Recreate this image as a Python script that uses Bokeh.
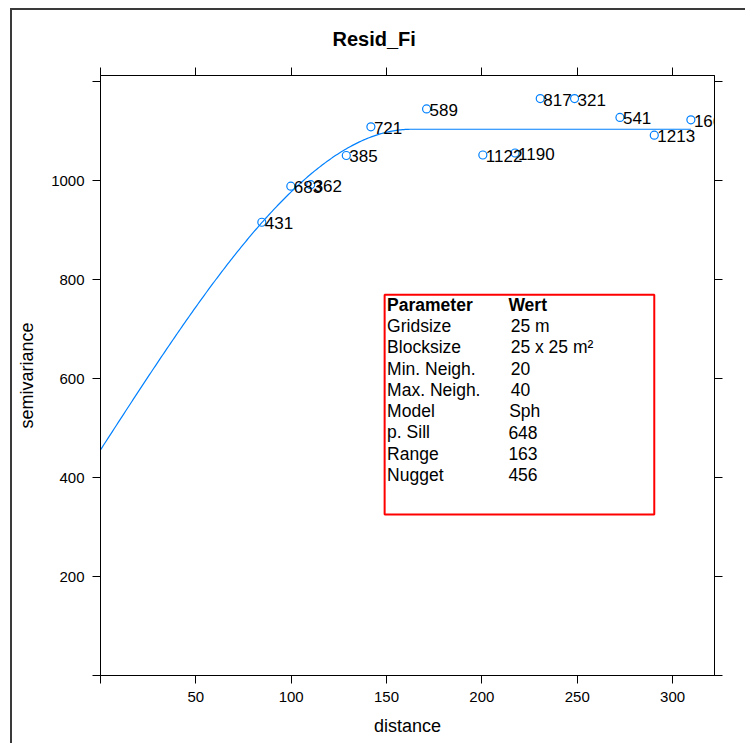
from bokeh.plotting import figure
from bokeh.models import (ColumnDataSource, FixedTicker, LinearAxis, BoxAnnotation, Title)
from bokeh.core.properties import value
from bokeh.embed import file_html
from bokeh.resources import INLINE

# ---- data ----
dist = [84.6, 99.8, 110.2, 128.9, 141.8, 171.0, 200.5, 217.4, 230.6, 248.6, 272.4, 290.4, 309.6]
gamma = [916, 989, 992, 1051, 1109, 1145, 1052, 1056, 1166, 1166, 1128, 1092, 1123]
npairs = ["431", "683", "362", "385", "721", "589", "1122", "1190", "817", "321", "541", "1213", "166"]

# fitted spherical model parameters (from the table)
nugget = 456
psill = 648
vrange = 163

x_ticks = [0, 50, 100, 150, 200, 250, 300]
y_ticks = [0, 200, 400, 600, 800, 1000, 1200]

param_names = ["Parameter", "Gridsize", "Blocksize", "Min. Neigh.", "Max. Neigh.",
               "Model", "p. Sill", "Range", "Nugget"]
param_values = ["Wert", "25 m", "25 x 25 m²", "20", "40", "Sph", "648", "163", "456"]

FONT = "Liberation Sans"
BLUE = "#0080ff"

xmax = 1.04 * max(dist)
ymax = 1.04 * max(gamma)

p = figure(width=745, height=743, output_backend="svg", toolbar_location=None,
           x_range=(0, xmax), y_range=(0, ymax),
           x_axis_location=None, y_axis_location=None)
p.min_border_left = 100
p.min_border_right = 31
p.min_border_top = 75
p.min_border_bottom = 68
p.grid.visible = False
p.outline_line_color = "black"
p.outline_line_width = 1
p.background_fill_color = "white"
p.border_fill_color = None
p.styles = {"box-shadow": "inset 10px 8px 0 0 white, inset 12px 10px 0 0 #3a3a3a"}

p.title = Title(text="Resid_Fi", align="left", vertical_align="top", text_font=FONT,
                text_font_size="20px", text_font_style="bold", text_color="black",
                text_line_height=0.6, offset=232, standoff=32)


def make_axis(loc, show_labels, ticks, overrides, label=None):
    ax = LinearAxis(ticker=FixedTicker(ticks=ticks))
    ax.axis_line_color = "black"
    ax.major_tick_line_color = "black"
    ax.major_tick_in = 0
    ax.major_tick_out = 8
    ax.minor_tick_line_color = None
    ax.major_label_text_font = FONT
    ax.major_label_text_font_size = "15px"
    ax.major_label_text_color = "black"
    ax.major_label_standoff = 8
    if show_labels:
        ax.major_label_overrides = overrides
    else:
        ax.major_label_text_color = None
        ax.major_label_text_font_size = "1px"
        ax.major_label_standoff = 0
    if label:
        ax.axis_label = label
        ax.axis_label_text_font = FONT
        ax.axis_label_text_font_size = "18px"
        ax.axis_label_text_font_style = "normal"
        ax.axis_label_text_color = "black"
        ax.axis_label_standoff = 11
    p.add_layout(ax, loc)
    return ax


make_axis("below", True, x_ticks, {0: ""}, "distance")
make_axis("above", False, x_ticks, {})
make_axis("left", True, y_ticks, {0: "", 1200: ""}, "semivariance")
make_axis("right", False, y_ticks, {})

# model line (spherical model with the parameters shown in the table)
n = 400
hx = [max(dist) * i / (n - 1) for i in range(n)]
hy = []
for h in hx:
    if h < vrange:
        r = h / vrange
        hy.append(nugget + psill * (1.5 * r - 0.5 * r ** 3))
    else:
        hy.append(nugget + psill)
p.line(hx, hy, line_color=BLUE, line_width=1.2)

src = ColumnDataSource(dict(x=dist, y=gamma, lab=npairs))
p.scatter("x", "y", source=src, marker="circle", size=8, fill_color=None,
          line_color=BLUE, line_width=1.2)
p.text("x", "y", text="lab", source=src, text_font=value(FONT), text_font_size="17px",
       text_color="black", text_align="left", text_baseline="middle", x_offset=3, y_offset=1)

# parameter table
box = BoxAnnotation(left=149.0, right=290.4, bottom=325.4, top=769.4,
                    fill_color=None, fill_alpha=0, line_color="#ff0000", line_alpha=1.0,
                    line_width=2)
p.add_layout(box)

row_y0 = 749.4
row_step = 43.0
ty = [row_y0 - i * row_step for i in range(len(param_names))]
val_x_off = [0, 1.2, 1.2, 1.2, 1.2, 0.4, 0, 0, 0]
xl = [150.3] * len(param_names)
xr = [213.9 + o for o in val_x_off]
head = ColumnDataSource(dict(xl=xl[:1], xr=xr[:1], y=ty[:1], name=param_names[:1], val=param_values[:1]))
body = ColumnDataSource(dict(xl=xl[1:], xr=xr[1:], y=ty[1:], name=param_names[1:], val=param_values[1:]))
for s, style in ((head, "bold"), (body, "normal")):
    p.text("xl", "y", text="name", source=s, text_font=value(FONT), text_font_size="17.5px",
           text_font_style=style, text_color="black", text_align="left", text_baseline="middle")
    p.text("xr", "y", text="val", source=s, text_font=value(FONT), text_font_size="17.5px",
           text_font_style=style, text_color="black", text_align="left", text_baseline="middle")

open("out.html", "w").write(file_html(p, INLINE))
